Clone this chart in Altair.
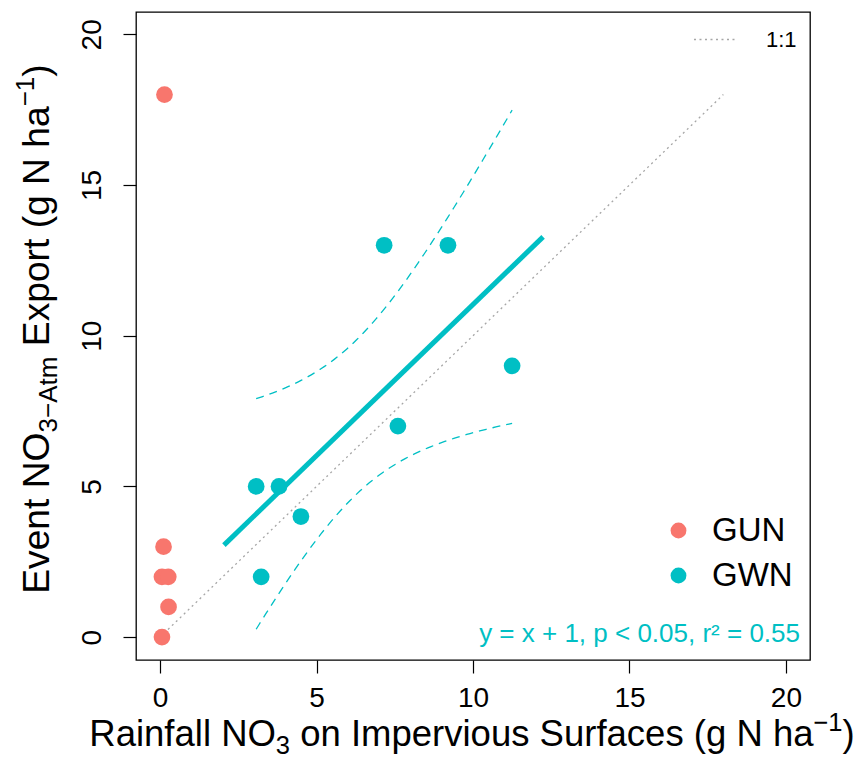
import altair as alt
import numpy as np
import pandas as pd

# ---------------- data ----------------
site = ["GUN"] * 6 + ["GWN"] * 8
rain_no3 = [0.14, 0.11, 0.06, 0.26, 0.27, 0.06,
            3.07, 3.80, 3.23, 4.50, 7.16, 9.20, 7.60, 11.25]
event_export = [18, 3, 2, 2, 1, 0,
                5, 5, 2, 4, 13, 13, 7, 9]
groups = ["GUN", "GWN"]
group_colors = ["#F8766D", "#00BFC4"]
fit_extent = [2.04, 12.24]
one_to_one = [0, 18]
x_ticks = [0, 5, 10, 15, 20]
y_ticks = [0, 5, 10, 15, 20]
x_domain = [-0.77, 20.77]
y_domain = [-0.76, 20.74]
annotation = "y = x + 1, p < 0.05, r\u00b2 = 0.55"

pts = pd.DataFrame({"x": rain_no3, "y": event_export, "site": site})

# 95% confidence band of the GWN linear fit
gwn = pts[pts.site == "GWN"]
gx, gy = gwn.x.to_numpy(), gwn.y.to_numpy()
n = len(gx)
b1, b0 = np.polyfit(gx, gy, 1)
s = np.sqrt(((gy - (b0 + b1 * gx)) ** 2).sum() / (n - 2))
t_crit = 2.446912  # t(0.975, df=6)
grid = np.linspace(gx.min(), gx.max(), 80)
se = s * np.sqrt(1 / n + (grid - gx.mean()) ** 2 / ((gx - gx.mean()) ** 2).sum())
fit = b0 + b1 * grid
band = pd.concat([
    pd.DataFrame({"x": grid, "y": fit + t_crit * se, "bound": "upper"}),
    pd.DataFrame({"x": grid, "y": fit - t_crit * se, "bound": "lower"}),
])
ref = pd.DataFrame({"x": one_to_one, "y": one_to_one, "lab": ["1:1", "1:1"]})

# ---------------- layout ----------------
W, H = 674, 648
FONT = "Liberation Sans"
TEAL = group_colors[1]

xs = alt.Scale(domain=x_domain, nice=False, zero=False)
ys = alt.Scale(domain=y_domain, nice=False, zero=False)
X = alt.X("x:Q", scale=xs, axis=alt.Axis(values=x_ticks, title=None))
Y = alt.Y("y:Q", scale=ys, axis=alt.Axis(values=y_ticks, title=None))

one = alt.Chart(ref).mark_line(color="#a6a6a6", strokeWidth=1.3).encode(
    x=X, y=Y,
    strokeDash=alt.StrokeDash(
        "lab:N",
        scale=alt.Scale(domain=["1:1"], range=[[2, 3.5]]),
        legend=alt.Legend(
            title=None, orient="none", legendX=557, legendY=5, padding=0,
            symbolType="stroke", symbolSize=1850, symbolStrokeColor="#a6a6a6",
            symbolStrokeWidth=1.3, labelFontSize=22, labelFont=FONT,
            labelColor="black", labelOffset=28,
        ),
    ),
)

band_layer = alt.Chart(band).mark_line(
    color=TEAL, strokeWidth=1.3, strokeDash=[8, 6]
).encode(x=X, y=Y, detail="bound:N")

fit_layer = alt.Chart(pts).transform_filter(
    alt.datum.site == "GWN"
).transform_regression("x", "y", extent=fit_extent).mark_line(
    color=TEAL, strokeWidth=5
).encode(x=X, y=Y)

point_layer = alt.Chart(pts).mark_circle(size=280, opacity=1).encode(
    x=X, y=Y,
    color=alt.Color(
        "site:N",
        scale=alt.Scale(domain=groups, range=group_colors),
        legend=alt.Legend(
            title=None, orient="none", legendX=526, legendY=502, padding=0,
            symbolType="circle", symbolSize=250, symbolStrokeWidth=0,
            symbolOpacity=1, labelFontSize=33, labelFont=FONT,
            labelColor="black", labelOffset=17, rowPadding=11,
        ),
    ),
)

ann = alt.Chart(pd.DataFrame({"t": [annotation]})).mark_text(
    align="right", baseline="alphabetic", font=FONT, fontSize=26, color=TEAL
).encode(x=alt.value(W - 10), y=alt.value(H - 18), text="t:N")

# --- axis titles with sub/superscripts, built from pieces (Arial metrics) ---
AW = {' ': 278, '(': 333, ')': 333, ':': 278, ',': 278, '.': 278, '\u2212': 584,
      '-': 333, '+': 584, '=': 584, '<': 584,
      'A': 667, 'E': 667, 'I': 278, 'N': 722, 'O': 778, 'R': 722, 'S': 667,
      'a': 556, 'c': 500, 'e': 556, 'f': 278, 'g': 556, 'h': 556, 'i': 222,
      'l': 222, 'm': 833, 'n': 556, 'o': 556, 'p': 556, 'r': 333, 's': 500,
      't': 278, 'u': 556, 'v': 500, 'x': 500, 'y': 500}
for d in "0123456789":
    AW[d] = 556


def tw(txt, size):
    return sum(AW.get(c, 556) for c in txt) * size / 1000.0


def title_layers(pieces, F, horizontal, base, center):
    sizes = {"n": F, "sub": 0.7 * F, "sup": 0.7 * F}
    shift = {"n": 0, "sub": 0.22 * F, "sup": -0.40 * F}
    total = sum(tw(p, sizes[k]) for p, k in pieces)
    pos = center - total / 2 if horizontal else center + total / 2
    out = []
    for p, k in pieces:
        sz = sizes[k]
        lead = len(p) - len(p.lstrip(" "))
        start = pos + (tw(" " * lead, sz) if horizontal else -tw(" " * lead, sz))
        txt = p.lstrip(" ")
        if horizontal:
            enc = dict(x=alt.value(start), y=alt.value(base + shift[k]))
            mk = dict(angle=0)
        else:
            enc = dict(x=alt.value(base + shift[k]), y=alt.value(start))
            mk = dict(angle=270)
        out.append(
            alt.Chart(pd.DataFrame({"t": [txt]})).mark_text(
                align="left", baseline="alphabetic", font=FONT, fontSize=sz,
                color="black", **mk
            ).encode(text="t:N", **enc)
        )
        w = tw(p, sz)
        pos = pos + w if horizontal else pos - w
    return out


x_title = [("Rainfall NO", "n"), ("3", "sub"),
           (" on Impervious Surfaces (g N ha", "n"), ("\u22121", "sup"), (")", "n")]
y_title = [("Event NO", "n"), ("3\u2212Atm", "sub"),
           (" Export (g N ha", "n"), ("\u22121", "sup"), (")", "n")]

titles = title_layers(x_title, 36.5, True, 734, W / 2 - 1) + \
    title_layers(y_title, 37.2, False, -87, H / 2 - 7)

chart = alt.layer(one, band_layer, fit_layer, point_layer, ann, *titles).resolve_legend(
    strokeDash="independent", color="independent"
).properties(
    width=W, height=H,
    autosize=alt.AutoSizeParams(type="none"),
    padding={"left": 128, "top": 4, "right": 46, "bottom": 100},
).configure_view(
    stroke="black", strokeWidth=1.3
).configure_axis(
    grid=False, domain=False, ticks=True, tickSize=13, tickColor="black",
    tickWidth=1.2, labelColor="black", labelFont=FONT, labelFontSize=28,
).configure_axisX(
    labelPadding=11,
).configure_axisY(
    labelAngle=270, labelAlign="center", labelBaseline="bottom", labelPadding=17,
)

chart.save("out.html", embed_options={"renderer": "svg", "actions": False})
